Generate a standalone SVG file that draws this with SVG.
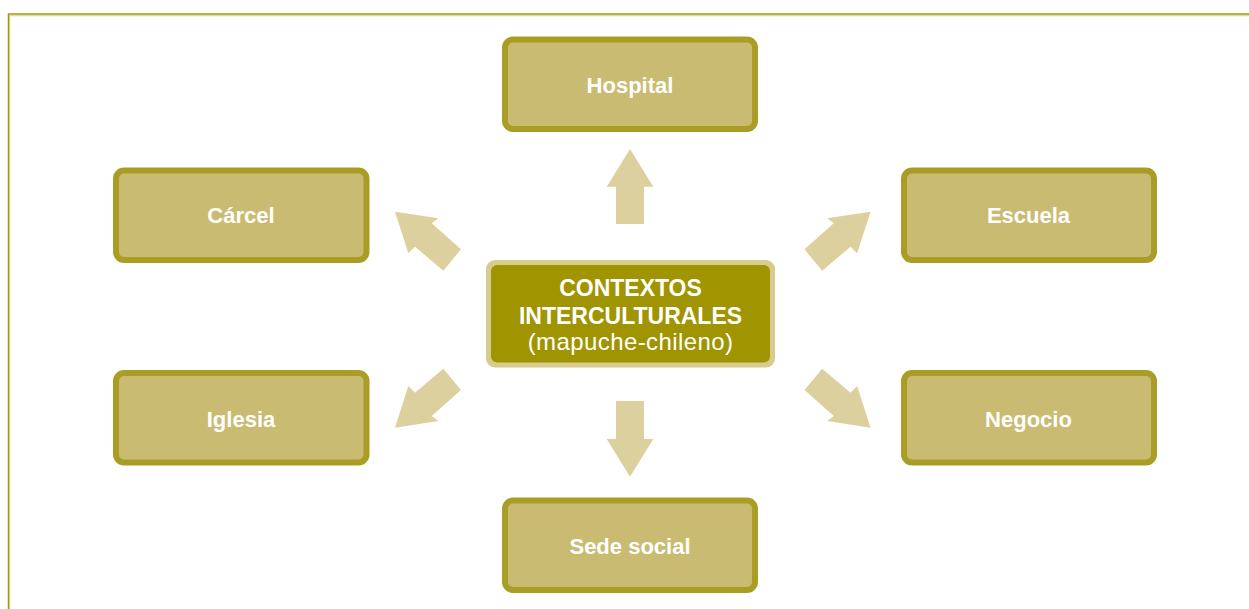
<svg xmlns="http://www.w3.org/2000/svg" width="1249" height="609" viewBox="0 0 1249 609">
  <style>
    .box { fill: #C9BB72; stroke: #AA9D26; stroke-width: 6; }
    .lbl { font-family: "Liberation Sans", Arial, sans-serif; font-weight: bold; font-size: 22px; fill: #FFFFFF; text-anchor: middle; }
    .ctr { font-family: "Liberation Sans", Arial, sans-serif; fill: #FFFFFF; text-anchor: middle; }
    .arr { fill: #DDD09F; }
  </style>
  <defs>
    <polygon id="diag" points="395,211.7 438.3,218.3 431.7,223.3 461,249.3 443.3,270.7 415,246.7 408.3,253.3"/>
  </defs>
  <rect x="0" y="0" width="1249" height="609" fill="#FFFFFF"/>
  <g id="frame">
    <polyline points="9.5,609 9.5,15.5 1249,15.5" fill="none" stroke="#E2D9A8" stroke-width="1.5"/>
    <polyline points="8.5,609 8.5,14 1249,14" fill="none" stroke="#A39A10" stroke-width="1.5"/>
  </g>
  <g id="connectors">
    <polygon class="arr" points="630,149 653.3,186.7 644,186.7 644,224 616,224 616,186.7 606.7,186.7"/>
    <polygon class="arr" points="616,401 644,401 644,439 653.3,439 630,476.7 606.7,439 616,439"/>
    <use href="#diag" class="arr"/>
    <use href="#diag" class="arr" transform="translate(1265.5,0) scale(-1,1)"/>
    <use href="#diag" class="arr" transform="translate(0,639.4) scale(1,-1)"/>
    <use href="#diag" class="arr" transform="translate(1265.5,639.4) scale(-1,-1)"/>
  </g>
  <g id="center">
    <rect x="486" y="260" width="289" height="107.5" rx="9" fill="#D8CB8E"/>
    <rect x="491" y="265" width="279" height="97.5" rx="6" fill="#A09400"/>
    <text class="ctr" x="630.5" y="296" font-size="23" font-weight="bold">CONTEXTOS</text>
    <text class="ctr" x="630.5" y="324" font-size="23" font-weight="bold">INTERCULTURALES</text>
    <text class="ctr" x="630.5" y="350" font-size="24" letter-spacing="0.4">(mapuche-chileno)</text>
  </g>
  <g id="hospital">
    <rect class="box" x="505" y="39.5" width="250" height="89.5" rx="8"/>
    <text class="lbl" x="630" y="93">Hospital</text>
  </g>
  <g id="carcel">
    <rect class="box" x="116" y="170.5" width="250.5" height="89.5" rx="8"/>
    <text class="lbl" x="241" y="223">Cárcel</text>
  </g>
  <g id="escuela">
    <rect class="box" x="904" y="170.5" width="250" height="89.5" rx="8"/>
    <text class="lbl" x="1028.5" y="223">Escuela</text>
  </g>
  <g id="iglesia">
    <rect class="box" x="116" y="373" width="250.5" height="89.5" rx="8"/>
    <text class="lbl" x="241" y="426.5">Iglesia</text>
  </g>
  <g id="negocio">
    <rect class="box" x="904" y="373" width="250" height="89.5" rx="8"/>
    <text class="lbl" x="1028.5" y="426.5">Negocio</text>
  </g>
  <g id="sede-social">
    <rect class="box" x="505" y="500.5" width="250" height="89.5" rx="8"/>
    <text class="lbl" x="630" y="554">Sede social</text>
  </g>
</svg>
